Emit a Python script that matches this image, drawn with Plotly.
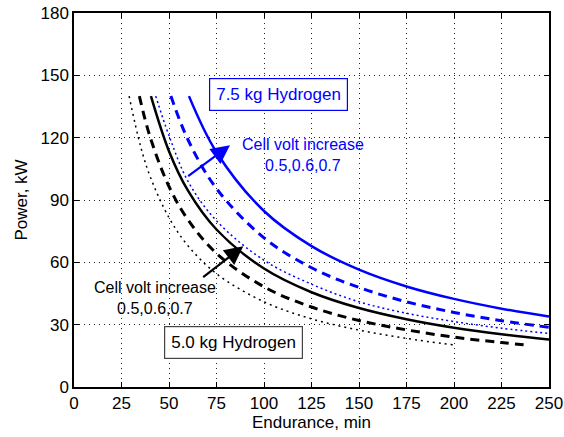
import plotly.graph_objects as go

# Endurance (min) and Power (kW)
t_k05 = [29, 35, 40, 50, 60, 75, 100, 125, 150, 175, 200]
p_k05 = [140, 116, 101.5, 81.5, 68, 54.5, 41, 32.8, 27.4, 23.4, 20.2]
t_k06 = [34.4, 40, 50, 60, 75, 100, 125, 150, 175, 200, 225, 240]
p_k06 = [140, 120.5, 96.5, 80.5, 64.3, 48.2, 38.5, 32, 27.5, 24, 21.4, 20]
t_k07 = [40.5, 50, 60, 75, 100, 125, 150, 175, 200, 225, 250]
p_k07 = [140, 113.5, 94.5, 75.8, 57, 45.6, 38, 32.6, 28.5, 25.4, 22.9]
t_b05 = [43, 50, 60, 75, 100, 125, 150, 175, 200, 225, 250]
p_b05 = [140, 121, 99, 80, 61, 49.5, 41, 35.5, 31.5, 28.3, 25.8]
t_b06 = [51, 60, 75, 100, 125, 150, 175, 200, 225, 250]
p_b06 = [140, 119, 95.5, 71.8, 57.4, 47.9, 41, 35.9, 31.9, 28.7]
t_b07 = [60.5, 75, 100, 125, 150, 175, 200, 225, 250]
p_b07 = [140, 113, 84.7, 67.8, 56.5, 48.4, 42.4, 37.7, 33.9]

x_ticks = [0, 25, 50, 75, 100, 125, 150, 175, 200, 225, 250]
y_ticks = [0, 30, 60, 90, 120, 150, 180]

BLUE = "#0000FF"
BLACK = "#000000"
FONT = "Liberation Sans, Arial, sans-serif"

fig = go.Figure()
series = [
    (t_k05, p_k05, BLACK, "2px,4px", 1.5),
    (t_k06, p_k06, BLACK, "9px,6px", 3),
    (t_k07, p_k07, BLACK, "solid", 2.5),
    (t_b05, p_b05, BLUE, "2px,3px", 1.5),
    (t_b06, p_b06, BLUE, "9px,6px", 3),
    (t_b07, p_b07, BLUE, "solid", 2.5),
]
for tx, py, col, dash, w in series:
    fig.add_trace(go.Scatter(x=tx, y=py, mode="lines",
                             line=dict(color=col, dash=dash, width=w, shape="spline"),
                             showlegend=False, hoverinfo="skip", cliponaxis=True))

# Text boxes
fig.add_annotation(x=107.4, y=140.9, xref="x", yref="y", text="7.5 kg Hydrogen",
                   showarrow=False, font=dict(family=FONT, size=17, color=BLUE),
                   bordercolor=BLUE, borderwidth=1.2, borderpad=6, bgcolor="white")
fig.add_annotation(x=83.7, y=21.2, xref="x", yref="y", text="5.0 kg Hydrogen",
                   showarrow=False, font=dict(family=FONT, size=17, color=BLACK),
                   bordercolor="#444444", borderwidth=1.2, borderpad=6, bgcolor="white")

# Labels
fig.add_annotation(x=120.7, y=111.5, xref="x", yref="y",
                   text="Cell volt increase<br>0.5,0.6,0.7",
                   showarrow=False, font=dict(family=FONT, size=16, color=BLUE))
fig.add_annotation(x=42.5, y=43.0, xref="x", yref="y",
                   text="Cell volt increase<br>0.5,0.6,0.7",
                   showarrow=False, font=dict(family=FONT, size=16, color=BLACK))

# Arrows
fig.add_annotation(x=82.1, y=116.3, ax=59.3, ay=101, xref="x", yref="y",
                   axref="x", ayref="y", text="", showarrow=True,
                   arrowhead=2, arrowsize=1.7, arrowwidth=2.2, arrowcolor=BLUE)
fig.add_annotation(x=89.1, y=67.8, ax=67.2, ay=52.3, xref="x", yref="y",
                   axref="x", ayref="y", text="", showarrow=True,
                   arrowhead=2, arrowsize=1.7, arrowwidth=2.2, arrowcolor=BLACK)

axis_common = dict(showline=True, linecolor="black", linewidth=1.5, mirror="ticks",
                   ticks="inside", ticklen=5, tickcolor="black", automargin=False,
                   showgrid=True, gridcolor="#222222", griddash="1px,4px", gridwidth=1,
                   zeroline=False,
                   tickfont=dict(family=FONT, size=17, color="black"),
                   title_font=dict(family=FONT, size=17, color="black"))

fig.update_xaxes(range=[0, 250], tickvals=x_ticks, ticktext=[str(v) for v in x_ticks],
                 title_text="Endurance, min", title_standoff=4, **axis_common)
fig.update_yaxes(range=[0, 180], tickvals=y_ticks, ticktext=[str(v) for v in y_ticks],
                 title_text="Power, kW", title_standoff=9, **axis_common)

fig.update_layout(width=564, height=437,
                  margin=dict(l=74, r=15, t=13, b=50),
                  plot_bgcolor="white", paper_bgcolor="white",
                  font=dict(family=FONT))

fig.write_html("out.html")
